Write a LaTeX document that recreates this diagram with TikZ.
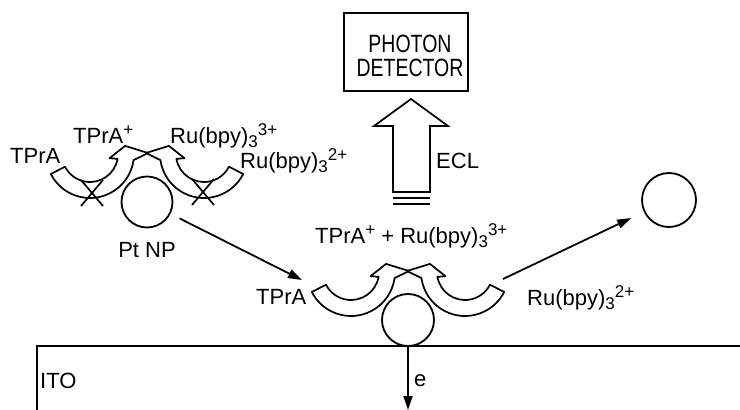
\documentclass[tikz,border=0pt]{standalone}
\usepackage{fontspec}
\setmainfont{Liberation Sans}
\newfontfamily\detfont{Liberation Sans}[FakeStretch=0.78]
\usetikzlibrary{arrows.meta}
\newcommand{\myup}[1]{\raisebox{7.5pt}{\fontsize{17}{17}\selectfont #1}}
\newcommand{\mydn}[1]{\raisebox{-4.5pt}{\fontsize{17}{17}\selectfont #1}}
\begin{document}
\begin{tikzpicture}[x=1pt,y=-1pt,
  lbl/.style={inner sep=0pt, anchor=base west, font=\fontsize{22}{25}\selectfont},
  dettext/.style={inner sep=0pt, anchor=base, font=\detfont\fontsize{25}{27}\selectfont},
  arr/.style={line width=1.8pt,-{Triangle[length=14pt,width=9pt]}},
  npc/.style={circle, draw, line width=1.8pt, inner sep=0pt},
  hollowarr/.pic={
    \begin{scope}[shift={(-57,-48)}]
      \draw[line width=1.7pt, line join=round]
        (153:44) arc[start angle=153, end angle=8, radius=44]
        -- (58,-1) -- (-13:36) -- (12:20) -- (10:28)
        arc[start angle=10, end angle=153, radius=28] -- cycle;
    \end{scope}
  },
  xmark/.pic={
    \draw[line width=1.7pt] (-11,-13) -- (11,13) (-11,13) -- (11,-13);
  }
]
\useasboundingbox (0,0) rectangle (740,410);

% photon detector
\node[draw, line width=1.9pt, minimum width=124pt, minimum height=78pt, inner sep=0pt] (det) at (406,52) {};
\node[dettext] (phot) at (410,52) {PHOTON};
\node[dettext] (detc) at (410,76) {DETECTOR};

% ECL hollow arrow
\draw[line width=1.7pt, line join=miter] (393,192) -- (393,126) -- (374,126) -- (411,99) -- (448,126) -- (430,126) -- (430,192) -- cycle;
\draw[line width=1.7pt] (393,198) -- (430,198);
\draw[line width=2.4pt] (393,204) -- (430,204);
\node[lbl] (ecl) at (436,168) {ECL};

% nanoparticles
\node[npc, minimum size=51pt] (np1) at (147,202) {};
\node[npc, minimum size=52pt] (np2) at (408,320) {};
\node[npc, minimum size=54pt] (np3) at (669,200) {};

% upper-left site
\pic at (147,202) {hollowarr};
\pic[xscale=-1] at (147,202) {hollowarr};
\pic at (92,193) {xmark};
\pic at (203,192) {xmark};
\node[lbl] (t1) at (10,163) {TPrA};
\node[lbl] (t2) at (73,143) {TPrA\myup{+}};
\node[lbl] (r1) at (170,143) {Ru(bpy)\mydn{3}\myup{3+}};
\node[lbl] (r2) at (240,168) {Ru(bpy)\mydn{3}\myup{2+}};
\node[inner sep=0pt, anchor=base, font=\fontsize{22}{25}\selectfont] (ptnp) at (147,257) {Pt NP};

% lower site
\pic at (408,320) {hollowarr};
\pic[xscale=-1] at (408,320) {hollowarr};
\node[lbl] (t3) at (256,304) {TPrA};
\node[lbl] (r3) at (527,305) {Ru(bpy)\mydn{3}\myup{2+}};
\node[lbl] (mid) at (315,243) {TPrA\myup{+} + Ru(bpy)\mydn{3}\myup{3+}};

% straight arrows
\coordinate (a1) at (302,280);
\coordinate (s2) at (503,279);
\draw[arr, shorten <=10pt] (np1) -- (a1);
\draw[arr, shorten >=14pt] (s2) -- (np3);

% ITO electrode
\draw[line width=2.2pt] (37,410) -- (37,346) -- (740,346);
\node[lbl] (ito) at (40,388) {ITO};
\coordinate (etip) at (408,410);
\draw[arr] (np2.south) -- (etip);
\node[lbl] (e) at (414,386) {e};
\end{tikzpicture}
\end{document}
